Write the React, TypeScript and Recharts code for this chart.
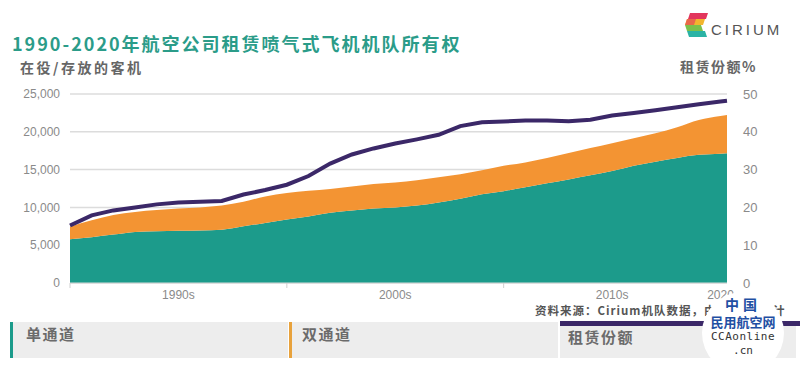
import React from 'react';
import {
  ComposedChart,
  Area,
  Line,
  XAxis,
  YAxis,
  CartesianGrid,
} from 'recharts';

// years (last point is the partial 2020 reading at the right edge)
const years = [
  1990, 1991, 1992, 1993, 1994, 1995, 1996, 1997, 1998, 1999,
  2000, 2001, 2002, 2003, 2004, 2005, 2006, 2007, 2008, 2009,
  2010, 2011, 2012, 2013, 2014, 2015, 2016, 2017, 2018, 2019,
  2020, 2020.3,
];

// single-aisle aircraft (teal)
const singleAisle = [
  5780, 6050, 6400, 6750, 6850, 6900, 6950, 7050, 7500, 7950,
  8400, 8800, 9300, 9600, 9850, 10000, 10250, 10650, 11150, 11750,
  12150, 12650, 13200, 13700, 14250, 14800, 15500, 16050, 16550, 16950,
  17100, 17150,
];

// twin-aisle aircraft (orange, stacked on top)
const twinAisle = [
  1670, 2250, 2600, 2650, 2800, 2950, 3050, 3200, 3250, 3500,
  3500, 3400, 3150, 3150, 3250, 3300, 3350, 3350, 3250, 3150,
  3350, 3300, 3350, 3500, 3600, 3700, 3650, 3750, 4050, 4600,
  5000, 5080,
];

// lease share % (purple line, right axis)
const leaseShare = [
  15.2, 17.9, 19.2, 20.0, 20.8, 21.3, 21.5, 21.7, 23.4, 24.6,
  26.0, 28.3, 31.6, 34.0, 35.6, 36.9, 38.0, 39.2, 41.5, 42.5,
  42.7, 43.0, 43.0, 42.8, 43.2, 44.3, 45.0, 45.7, 46.5, 47.3,
  48.0, 48.2,
];

const leftTicks = [0, 5000, 10000, 15000, 20000, 25000];
const rightTicks = [0, 10, 20, 30, 40, 50];
const xTicks = [1990, 1995, 2000, 2005, 2010, 2015, 2020];
const xLabels = ['', '1990s', '', '2000s', '', '2010s', '2020'];

const TEAL = '#1c9b8b';
const ORANGE = '#f39433';
const PURPLE = '#3b2868';

const data = years.map((y, i) => ({
  year: y,
  single: singleAisle[i],
  twin: twinAisle[i],
  share: leaseShare[i],
}));

const XTick = (props: any) => {
  const { x, y, payload } = props;
  const label = xLabels[xTicks.indexOf(payload.value)];
  if (!label) {
    return <line x1={x} x2={x} y1={y - 8} y2={y - 3} stroke="#cfcfcf" strokeWidth={1} />;
  }
  return (
    <text x={x} y={y + 8} textAnchor="middle" fontSize={12} fill="#8a8a8a">
      {label}
    </text>
  );
};

const CiriumLogo = () => (
  <div style={{ position: 'absolute', left: 684, top: 12, display: 'flex', alignItems: 'center' }}>
    <svg width={26} height={26} viewBox="0 0 26 26">
      <polygon points="6,1 24,1 22,7 4,7" fill="#e2355c" />
      <polygon points="3,7 21,7 19,13 1,13" fill="#f2b52e" />
      <polygon points="3,7 12,7 10,13 1,13" fill="#e9684a" />
      <polygon points="1,13 17,13 19,19 3,19" fill="#7cc04b" />
      <polygon points="3,19 21,19 23,25 5,25" fill="#2bb3a5" />
    </svg>
    <span
      style={{
        fontFamily: '"Liberation Sans", sans-serif',
        fontSize: 15,
        letterSpacing: 3,
        color: '#555',
        marginLeft: 1,
        marginTop: 8,
      }}
    >
      CIRIUM
    </span>
  </div>
);

export default function App() {
  return (
    <div
      style={{
        position: 'absolute',
        left: 0,
        top: 0,
        width: 800,
        height: 365,
        background: '#fff',
        overflow: 'hidden',
        fontFamily: '"Liberation Sans", "Noto Sans CJK SC", sans-serif',
      }}
    >
      <div
        style={{
          position: 'absolute',
          left: 12,
          top: 31,
          fontFamily: '"Noto Sans CJK SC", sans-serif',
          fontSize: 18,
          fontWeight: 700,
          letterSpacing: 2,
          color: '#2b9c89',
          lineHeight: '24px',
          whiteSpace: 'nowrap',
        }}
      >
        1990-2020年航空公司租赁喷气式飞机机队所有权
      </div>
      <div
        style={{
          position: 'absolute',
          left: 20,
          top: 57,
          fontFamily: '"Noto Sans CJK SC", sans-serif',
          fontSize: 14,
          fontWeight: 600,
          letterSpacing: 2.5,
          color: '#666',
          lineHeight: '20px',
        }}
      >
        在役/存放的客机
      </div>
      <div
        style={{
          position: 'absolute',
          left: 680,
          top: 56,
          fontFamily: '"Noto Sans CJK SC", sans-serif',
          fontSize: 14,
          fontWeight: 600,
          letterSpacing: 1.5,
          color: '#666',
          lineHeight: '20px',
        }}
      >
        租赁份额%
      </div>
      <CiriumLogo />

      <div style={{ position: 'absolute', left: 0, top: 0 }}>
        <ComposedChart
          width={800}
          height={308}
          data={data}
          margin={{ top: 94, right: 0, bottom: 0, left: 0 }}
        >
          <CartesianGrid yAxisId="left" vertical={false} stroke="#dcdcdc" strokeWidth={1.5} />
          <XAxis
            dataKey="year"
            type="number"
            domain={[1990, 2020.3]}
            ticks={xTicks}
            interval={0}
            tick={<XTick />}
            tickLine={false}
            axisLine={{ stroke: '#d8d8d8' }}
            height={25}
          />
          <YAxis
            yAxisId="left"
            width={70}
            domain={[0, 25000]}
            ticks={leftTicks}
            tickFormatter={(v) => v.toLocaleString('en-US')}
            tick={{ fontSize: 12, fill: '#8a8a8a' }}
            tickMargin={4}
            axisLine={false}
            tickLine={false}
          />
          <YAxis
            yAxisId="right"
            orientation="right"
            width={73}
            domain={[0, 50]}
            ticks={rightTicks}
            tick={{ fontSize: 13, fill: '#8a8a8a' }}
            tickMargin={10}
            axisLine={false}
            tickLine={false}
          />
          <Area
            yAxisId="left"
            dataKey="single"
            stackId="fleet"
            type="monotone"
            fill={TEAL}
            fillOpacity={1}
            stroke="none"
            isAnimationActive={false}
          />
          <Area
            yAxisId="left"
            dataKey="twin"
            stackId="fleet"
            type="monotone"
            fill={ORANGE}
            fillOpacity={1}
            stroke="none"
            isAnimationActive={false}
          />
          <Line
            yAxisId="right"
            dataKey="share"
            type="linear"
            stroke={PURPLE}
            strokeWidth={4}
            dot={false}
            isAnimationActive={false}
          />
        </ComposedChart>
      </div>

      <div
        style={{
          position: 'absolute',
          left: 535,
          top: 302,
          fontFamily: '"Noto Sans CJK SC", sans-serif',
          fontSize: 11.5,
          fontWeight: 600,
          letterSpacing: 1,
          color: '#555',
          lineHeight: '16px',
          whiteSpace: 'nowrap',
        }}
      >
        资料来源：Cirium机队数据，由Cirium统计
      </div>

      {/* legend strip */}
      <div style={{ position: 'absolute', left: 10, top: 322, width: 3, height: 36, background: TEAL }} />
      <div style={{ position: 'absolute', left: 13, top: 322, width: 275, height: 36, background: '#ededed' }} />
      <div style={{ position: 'absolute', left: 289, top: 322, width: 3, height: 36, background: '#e8a23c' }} />
      <div style={{ position: 'absolute', left: 292, top: 322, width: 266, height: 36, background: '#ededed' }} />
      <div style={{ position: 'absolute', left: 560, top: 321, width: 240, height: 5, background: PURPLE }} />
      <div style={{ position: 'absolute', left: 560, top: 326, width: 236, height: 32, background: '#ededed' }} />
      {[
        { text: '单通道', left: 26, top: 324 },
        { text: '双通道', left: 302, top: 324 },
        { text: '租赁份额', left: 568, top: 327 },
      ].map((l) => (
        <div
          key={l.text}
          style={{
            position: 'absolute',
            left: l.left,
            top: l.top,
            fontFamily: '"Noto Sans CJK SC", sans-serif',
            fontSize: 15,
            fontWeight: 600,
            letterSpacing: 1.5,
            color: '#6b6b6b',
            lineHeight: '20px',
          }}
        >
          {l.text}
        </div>
      ))}

      {/* watermark */}
      <div
        style={{
          position: 'absolute',
          left: 702,
          top: 292,
          width: 82,
          height: 82,
          borderRadius: '50%',
          background: '#fff',
          textAlign: 'center',
          fontFamily: '"Noto Sans CJK SC", sans-serif',
        }}
      >
        <div style={{ marginTop: 4, fontSize: 14, fontWeight: 700, color: '#1f4fa3', letterSpacing: 4, lineHeight: '17px' }}>
          中国
        </div>
        <div style={{ fontSize: 13, fontWeight: 700, color: '#1f4fa3', lineHeight: '17px' }}>民用航空网</div>
        <div
          style={{
            fontFamily: '"DejaVu Sans Mono", monospace',
            fontSize: 11,
            color: '#333',
            letterSpacing: 0.5,
            lineHeight: '14px',
          }}
        >
          CCAonline
        </div>
        <div style={{ fontFamily: '"DejaVu Sans Mono", monospace', fontSize: 11, color: '#333', lineHeight: '14px' }}>
          .cn
        </div>
      </div>
    </div>
  );
}
